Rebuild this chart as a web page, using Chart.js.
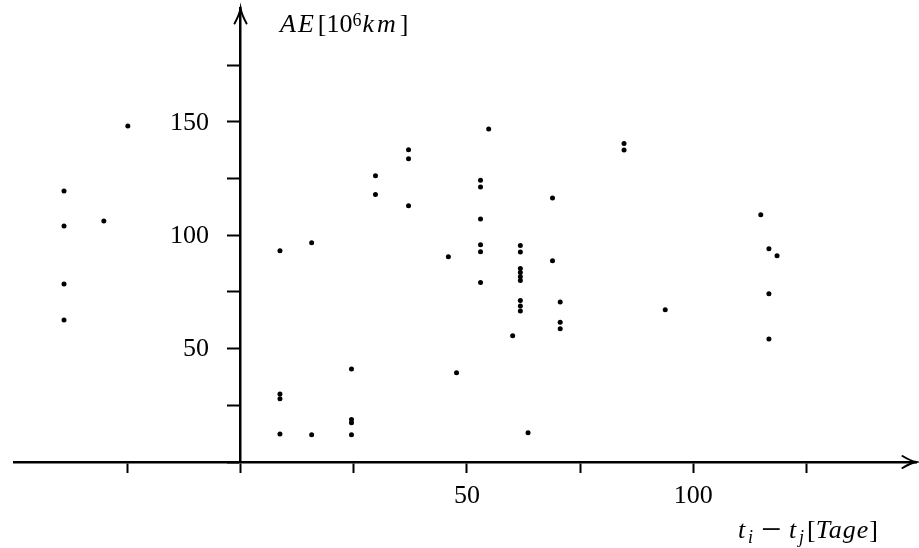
<!DOCTYPE html>
<html lang="de">
<head>
<meta charset="utf-8">
<title>AE gegen t_i - t_j</title>
<script src="https://cdn.jsdelivr.net/npm/chart.js@4/dist/chart.umd.min.js"></script>
<style>
  html, body { margin: 0; padding: 0; background: #fff; }
  #graphique { display: block; }
</style>
</head>
<body>
<canvas id="graphique" width="919" height="548"></canvas>
<script>
// Zeitdifferenz t_i - t_j in Tagen
const tageDiff = [
  -39, -39, -39, -39, -30.2, -24.9,
  8.7, 8.7, 8.7, 8.7, 15.7, 15.7,
  24.5, 24.5, 24.5, 24.5, 29.8, 29.8,
  37.1, 37.1, 37.1, 45.9, 47.7,
  54.8, 53, 53, 53, 53, 53, 53,
  61.8, 61.8, 61.8, 61.8, 61.8, 61.8, 61.8, 61.8, 61.8,
  60.1, 63.5, 68.9, 68.9, 70.6, 70.6, 70.6,
  84.7, 84.7, 93.8, 114.9, 116.7, 118.5, 116.7, 116.7
];
// AE in 10^6 km
const aeWerte = [
  119.5, 104.1, 78.5, 62.6, 106.3, 148.1,
  93.1, 30.0, 27.9, 12.3, 96.7, 12.0,
  41.0, 18.7, 17.3, 12.0, 126.2, 117.9,
  137.7, 133.7, 113.0, 90.5, 39.4,
  146.8, 124.2, 121.3, 107.1, 95.8, 92.7, 79.1,
  95.5, 92.6, 85.3, 83.5, 81.7, 80.0, 71.2, 68.8, 66.6,
  55.7, 12.9, 116.4, 88.7, 70.6, 61.6, 58.7,
  140.4, 137.6, 67.1, 109.0, 94.0, 90.9, 74.2, 54.2
];

const xTicks = [-25, 0, 25, 50, 75, 100, 125];
const xTickLabels = [50, 100];
const yTicks = [0, 25, 50, 75, 100, 125, 150, 175];
const yTickLabels = [50, 100, 150];

const police = '"Liberation Serif", "DejaVu Serif", serif';

// petit texte "LaTeX" : morceaux italiques / indices / exposants
function ecrire(ctx, morceaux, x, y) {
  ctx.textBaseline = 'alphabetic';
  ctx.textAlign = 'left';
  for (const m of morceaux) {
    x += m.avant || 0;
    ctx.font = (m.it ? 'italic ' : '') + (m.taille || 26) + 'px ' + police;
    ctx.letterSpacing = (m.ls || 0) + 'px';
    ctx.fillText(m.t, x, y + (m.dy || 0));
    x += ctx.measureText(m.t).width;
  }
  ctx.letterSpacing = '0px';
}

const flechesEtTitres = {
  id: 'flechesEtTitres',
  afterDraw(chart) {
    const { ctx, scales: { x, y } } = chart;
    const x0 = x.getPixelForValue(0);
    const y0 = y.getPixelForValue(0);
    ctx.save();
    ctx.strokeStyle = '#000';
    ctx.lineWidth = 2;
    ctx.lineCap = 'round';

    // fleche en haut de l'axe y
    const haut = y.top;
    ctx.beginPath();
    ctx.moveTo(x0 - 6, haut + 15);
    ctx.quadraticCurveTo(x0 - 1, haut + 6, x0, haut);
    ctx.quadraticCurveTo(x0 + 1, haut + 6, x0 + 6, haut + 15);
    ctx.stroke();

    // fleche a droite de l'axe x
    const droite = x.right;
    ctx.beginPath();
    ctx.moveTo(droite - 14, y0 - 6);
    ctx.quadraticCurveTo(droite - 6, y0 - 1, droite, y0);
    ctx.quadraticCurveTo(droite - 6, y0 + 1, droite - 14, y0 + 6);
    ctx.stroke();

    ctx.fillStyle = '#000';

    // graduations de l'axe y (Chart.js les colle a l'axe quand il est centre)
    ctx.font = '26px ' + police;
    ctx.textAlign = 'right';
    ctx.textBaseline = 'middle';
    for (const v of yTickLabels) {
      ctx.fillText(String(v), x0 - 31.5, y.getPixelForValue(v) + 1);
    }

    ecrire(ctx, [
      { t: 'AE', it: true, ls: 2 },
      { t: '[10', avant: 2 },
      { t: '6', taille: 18, dy: -6 },
      { t: 'km', it: true, ls: 3, avant: 1 },
      { t: ']', avant: 1 }
    ], 280, 31.5);

    ecrire(ctx, [
      { t: 't', it: true },
      { t: 'i', it: true, taille: 18, dy: 5, avant: 2.8 },
      { t: '\u2212', taille: 36, dy: 3, avant: 8 },
      { t: 't', it: true, avant: 7.7 },
      { t: 'j', it: true, taille: 18, dy: 5, avant: 2.8 },
      { t: '[', avant: 3 },
      { t: 'Tage', it: true, ls: 1 },
      { t: ']' }
    ], 738, 538);
    ctx.restore();
  }
};

const grille = {
  drawOnChartArea: false,
  drawTicks: true,
  tickWidth: 2,
  tickColor: '#000'
};

new Chart(document.querySelector('#graphique'), {
  type: 'scatter',
  data: {
    datasets: [{
      label: 'AE',
      data: tageDiff.map((t, i) => ({ x: t, y: aeWerte[i] })),
      backgroundColor: '#000',
      borderWidth: 0,
      pointRadius: 2.5,
      pointHoverRadius: 2.5
    }]
  },
  options: {
    responsive: false,
    animation: false,
    devicePixelRatio: 1,
    layout: { padding: { left: 14.2, right: 1, top: 8.4, bottom: 0 } },
    plugins: { legend: { display: false }, tooltip: { enabled: false } },
    scales: {
      x: {
        type: 'linear',
        position: 'bottom',
        min: -50,
        max: 149.3,
        afterBuildTicks: (s) => { s.ticks = xTicks.map((v) => ({ value: v })); },
        afterFit: (s) => { s.height = 86; s.paddingLeft = 0; s.paddingRight = 0; },
        ticks: {
          autoSkip: false,
          maxRotation: 0,
          padding: 8,
          color: '#000',
          font: { family: police, size: 26 },
          callback: (v) => (xTickLabels.includes(v) ? String(v) : '')
        },
        grid: { ...grille, tickLength: 11 },
        border: { display: true, color: '#000', width: 2.5 }
      },
      y: {
        type: 'linear',
        position: { x: 0 },
        min: 0,
        max: 200,
        afterBuildTicks: (s) => { s.ticks = yTicks.map((v) => ({ value: v })); },
        afterFit: (s) => { s.paddingTop = 0; s.paddingBottom = 0; },
        ticks: {
          autoSkip: false,
          color: '#000',
          font: { family: police, size: 26 },
          callback: () => ''
        },
        grid: { ...grille, tickLength: 12 },
        border: { display: true, color: '#000', width: 2.5 }
      }
    }
  },
  plugins: [flechesEtTitres]
});
</script>
</body>
</html>
